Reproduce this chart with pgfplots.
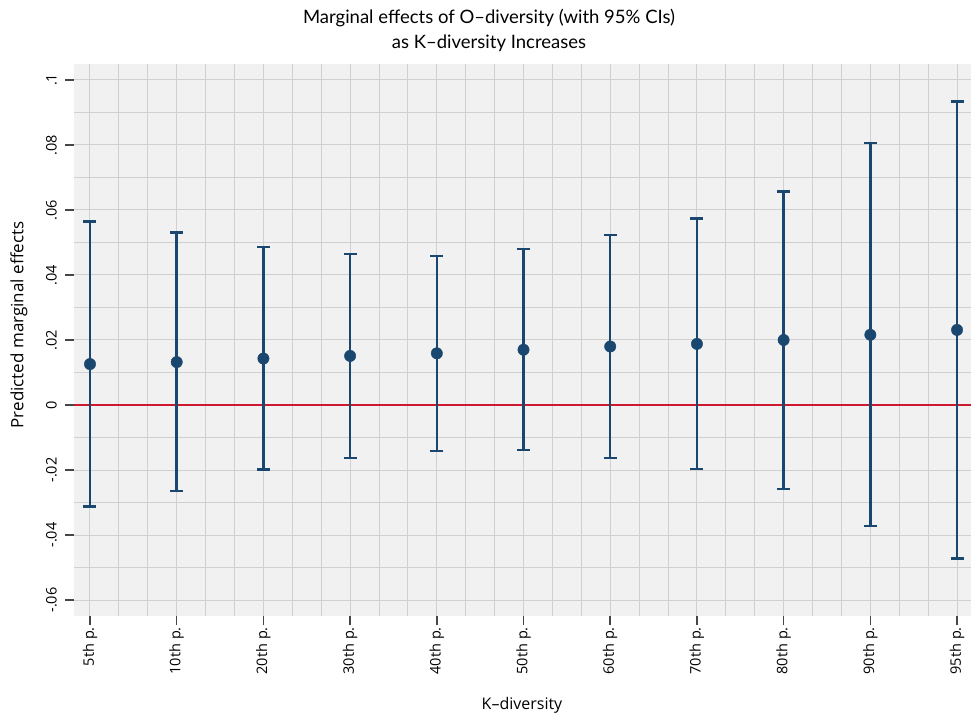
\documentclass[border=0pt]{standalone}
\usepackage{pgfplots}
\usepackage{pgfplotstable}
\pgfplotsset{compat=1.18}
\usepackage{fontspec}
\setmainfont{Open Sans}
\newfontfamily\titlefont{Lato}
\definecolor{navy}{RGB}{26,71,111}
\definecolor{zred}{RGB}{204,24,48}
\definecolor{bgc}{RGB}{241,241,241}
\definecolor{gridc}{RGB}{208,208,208}
\definecolor{tickc}{RGB}{70,70,70}
\pgfplotstableread{
x  y       hi      lo
0  0.0126  0.0564  -0.0312
1  0.0132  0.0530  -0.0265
2  0.0143  0.0486  -0.0199
3  0.0151  0.0465  -0.0163
4  0.0159  0.0458  -0.0142
5  0.0170  0.0480  -0.0139
6  0.0180  0.0523  -0.0163
7  0.0188  0.0574  -0.0197
8  0.0200  0.0657  -0.0258
9  0.0216  0.0806  -0.0372
10 0.0231  0.0933  -0.0472
}\datatable
\begin{document}
\begin{tikzpicture}
\useasboundingbox (-74pt,-101pt) rectangle (897pt,616pt);
\begin{axis}[
  at={(0,0)}, anchor=south west,
  scale only axis, width=897pt, height=552pt,
  xmin=-0.1845, xmax=10.161,
  ymin=-0.0649, ymax=0.1049,
  axis background/.style={fill=bgc},
  axis line style={draw=none},
  xtick={0,...,10},
  xticklabels={5th p.,10th p.,20th p.,30th p.,40th p.,50th p.,60th p.,70th p.,80th p.,90th p.,95th p.},
  ytick={-0.06,-0.04,-0.02,0,0.02,0.04,0.06,0.08,0.1},
  yticklabels={-.06,-.04,-.02,0,.02,.04,.06,.08,.1},
  minor x tick num=2,
  minor y tick num=1,
  grid=both,
  major grid style={draw=gridc, line width=1pt},
  minor grid style={draw=gridc, line width=1pt},
  tick align=outside,
  xtick pos=bottom, ytick pos=left,
  major tick length=9pt,
  minor tick length=0pt,
  major tick style={draw=tickc, line width=1.5pt},
  /pgf/number format/assume math mode=true,
  xticklabel style={rotate=90, anchor=east, font=\fontsize{14.5}{16}\selectfont, inner sep=2pt},
  yticklabel style={rotate=90, anchor=south, font=\fontsize{14.5}{16}\selectfont, inner sep=8pt},
  every tick label/.append style={text=black},
  clip=false,
]
\addplot[zred, line width=2.3pt] coordinates {(-0.1845,0) (10.161,0)};
\addplot[navy, only marks, mark=*, mark size=5.7pt,
  mark options={fill=navy, draw=navy},
  error bars/.cd, y dir=both, y explicit,
  error bar style={line width=2.5pt, navy},
  error mark options={rotate=90, mark size=6.5pt, line width=2.5pt, navy}]
  table[x=x, y=y, y error plus expr=\thisrow{hi}-\thisrow{y}, y error minus expr=\thisrow{y}-\thisrow{lo}] {\datatable};
\end{axis}
\node[align=center, font=\titlefont\fontsize{18.5}{25}\selectfont] at (415pt,585.5pt) {Marginal effects of O\textendash diversity (with 95\% CIs)\\as K\textendash diversity Increases};
\node[rotate=90, font=\fontsize{17}{20}\selectfont] at (-55pt,291pt) {Predicted marginal effects};
\node[font=\fontsize{16}{19}\selectfont] at (448pt,-89pt) {K\textendash diversity};
\end{tikzpicture}
\end{document}
